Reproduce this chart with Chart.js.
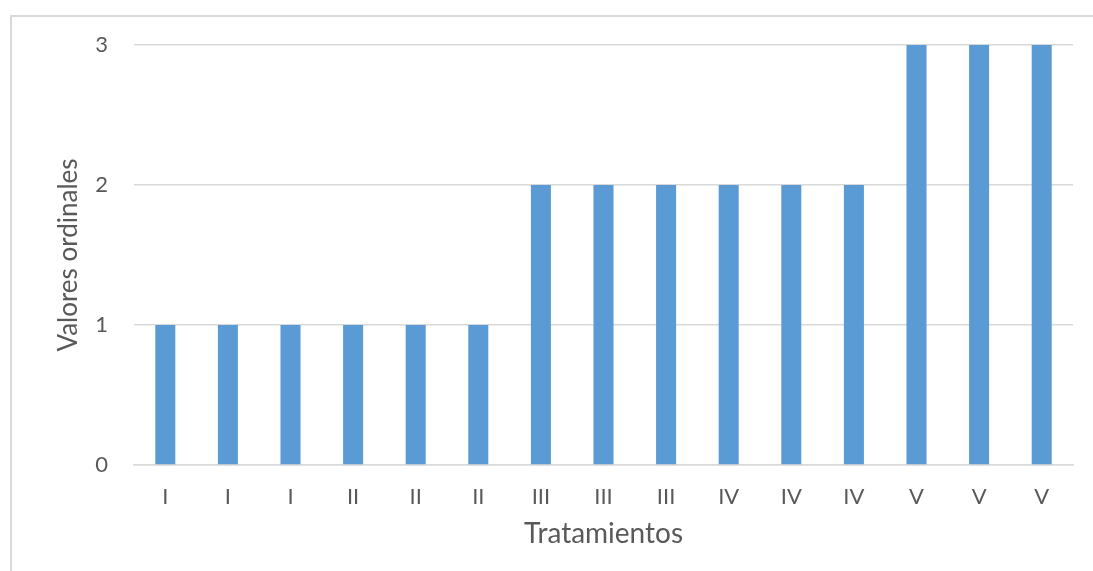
<!DOCTYPE html>
<html>
<head>
<meta charset="utf-8">
<script src="https://cdn.jsdelivr.net/npm/chart.js@4/dist/chart.umd.min.js"></script>
<style>
  html, body { margin: 0; padding: 0; background: #fff; overflow: hidden; }
  #wrap { position: relative; width: 1093px; height: 571px; overflow: hidden; }
  #frame { position: absolute; left: 10px; top: 15px; right: -10px; bottom: -10px;
           border-left: 2px solid #d9d9d9; border-top: 2px solid #d9d9d9; }
  canvas { position: absolute; left: 0; top: 0; }
</style>
</head>
<body>
<div id="wrap">
  <div id="frame"></div>
  <canvas id="c" width="1093" height="571"></canvas>
</div>
<script>
// Treatments (one bar per replicate) and their ordinal score
const categories = ['I', 'I', 'I', 'II', 'II', 'II', 'III', 'III', 'III', 'IV', 'IV', 'IV', 'V', 'V', 'V'];
const valores = [1, 1, 1, 1, 1, 1, 2, 2, 2, 2, 2, 2, 3, 3, 3];
const yTicks = [0, 1, 2, 3];

const FONT = 'Lato, "Open Sans", "Liberation Sans", sans-serif';
const TEXT = '#595959';
const GRID = '#d9d9d9';

new Chart(document.getElementById('c'), {
  type: 'bar',
  data: {
    labels: categories,
    datasets: [{
      data: valores,
      backgroundColor: '#5b9bd5',
      borderWidth: 0,
      categoryPercentage: 1,
      barPercentage: 0.32
    }]
  },
  options: {
    responsive: false,
    animation: false,
    events: [],
    layout: { padding: { left: 0, top: 45, right: 20, bottom: 0 } },
    plugins: { legend: { display: false }, tooltip: { enabled: false } },
    scales: {
      x: {
        grid: { display: false, drawTicks: false },
        border: { display: true, color: GRID, width: 1.5 },
        ticks: { color: TEXT, font: { family: FONT, size: 22 }, padding: 19, autoSkip: false, maxRotation: 0 },
        title: { display: true, text: 'Tratamientos', color: TEXT,
                 font: { family: FONT, size: 28 }, padding: { top: 0, bottom: 20 } },
        afterFit: s => { s.height = 106; }
      },
      y: {
        min: yTicks[0],
        max: yTicks[yTicks.length - 1],
        afterBuildTicks: s => { s.ticks = yTicks.map(v => ({ value: v })); },
        grid: { color: GRID, lineWidth: 1.5, drawTicks: false },
        border: { display: false },
        ticks: { color: TEXT, font: { family: FONT, size: 22 }, padding: 26 },
        title: { display: true, text: 'Valores ordinales', color: TEXT,
                 font: { family: FONT, size: 26 }, padding: { top: 53, bottom: 0 } },
        afterFit: s => { s.width = 134; }
      }
    }
  }
});
</script>
</body>
</html>
